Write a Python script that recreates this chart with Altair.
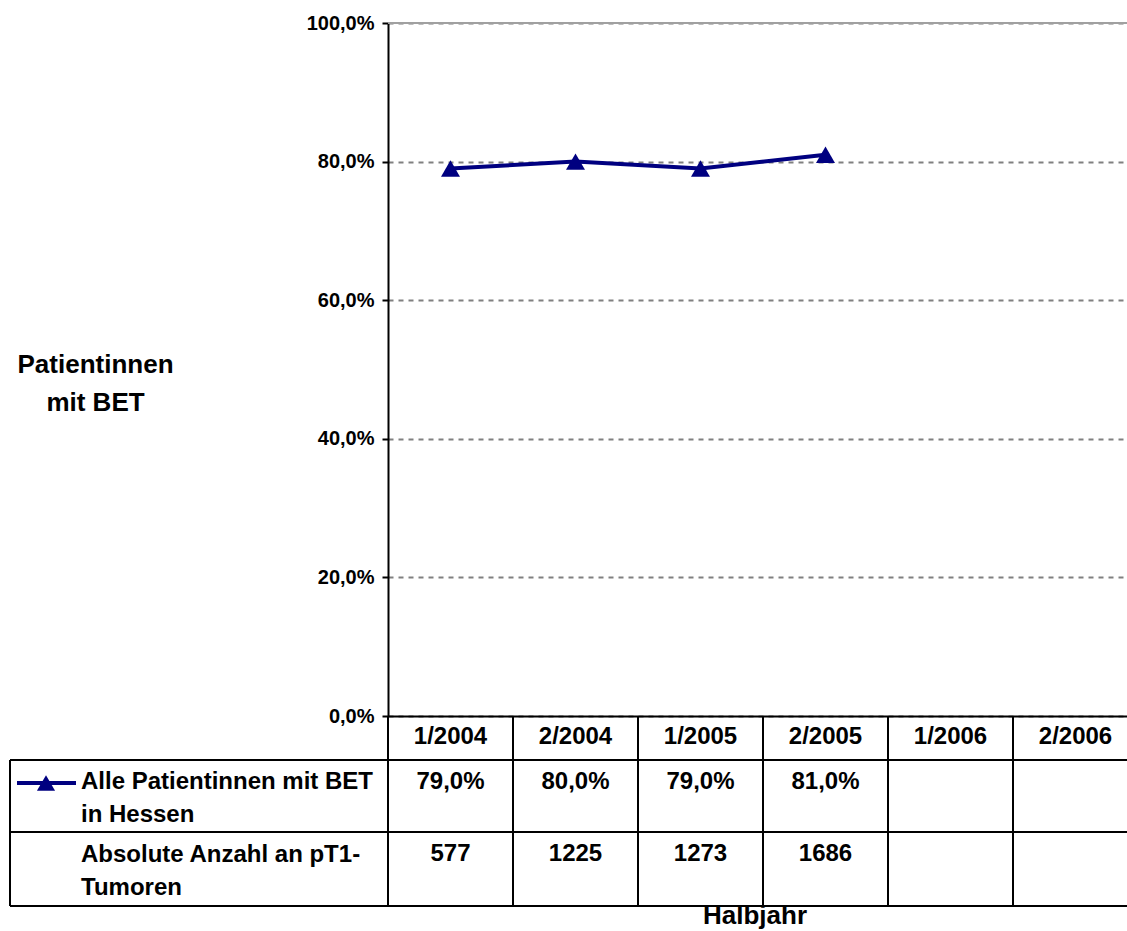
import altair as alt
import pandas as pd

# ---- data -------------------------------------------------------------
categories = ["1/2004", "2/2004", "1/2005", "2/2005", "1/2006", "2/2006"]
bet_share = [0.79, 0.80, 0.79, 0.81, None, None]
pt1_counts = [577, 1225, 1273, 1686, None, None]
y_ticks = [0.0, 0.2, 0.4, 0.6, 0.8, 1.0]
series_label = "Alle Patientinnen mit BET\nin Hessen"
count_label = "Absolute Anzahl an pT1-\nTumoren"
y_title = ["Patientinnen", "mit BET"]
x_title = "Halbjahr"

FONT = "Liberation Sans"
NAVY = "#000080"

df = pd.DataFrame({
    "cat": categories,
    "idx": list(range(len(categories))),
    "share": bet_share,
    "count": pt1_counts,
})
df["share_txt"] = [("" if v is None or pd.isna(v) else f"{v*100:.1f}%".replace(".", ",")) for v in df["share"]]
df["count_txt"] = [("" if v is None or pd.isna(v) else str(int(v))) for v in df["count"]]
line_df = df.dropna(subset=["share"])
bounds = pd.DataFrame({"idx": [i + 0.5 for i in range(len(categories) - 1)]})

W, H = 739, 693
xscale = alt.Scale(domain=[-0.5, 5.5 - 11 / 125], nice=False, zero=False)
yscale = alt.Scale(domain=[0, 1], nice=False, zero=True)

xaxis = alt.Axis(labels=False, ticks=False, grid=False, title=None,
                 domainColor="black", domainWidth=2)
yaxis = alt.Axis(values=y_ticks,
                 labelExpr="replace(format(datum.value, '.1%'), '.', ',')",
                 labelFont=FONT, labelFontSize=20, labelFontWeight="bold",
                 labelColor="black", labelPadding=8,
                 tickColor="black", tickWidth=2, tickSize=6,
                 domainColor="black", domainWidth=2,
                 grid=True, gridColor="#808080", gridDash=[5, 5], gridWidth=2,
                 title=y_title, titleAngle=0, titleX=-293, titleY=341,
                 titleAlign="center", titleBaseline="middle",
                 titleFont=FONT, titleFontSize=26, titleFontWeight="bold",
                 titleColor="black", titleLineHeight=38)

X = alt.X("idx:Q", scale=xscale, axis=xaxis)
Y = alt.Y("share:Q", scale=yscale, axis=yaxis)

base = alt.Chart(line_df)
top_rule = alt.Chart(pd.DataFrame({"share": [1.0]})).mark_rule(
    color="#a0a0a0", strokeWidth=2).encode(y=Y)
line = base.mark_line(color=NAVY, strokeWidth=4).encode(x=X, y=Y)
points = base.mark_point(shape="triangle-up", filled=True, size=360,
                         color=NAVY, opacity=1).encode(x=X, y=Y)

# ---- table --------------------------------------------------------------
hrules = alt.Chart(pd.DataFrame({"yy": [737, 809, 883]})).mark_rule(
    color="black", strokeWidth=2).encode(
    y=alt.Y("yy:Q", scale=None), x=alt.value(-378), x2=alt.value(W))
left_border = alt.Chart(pd.DataFrame({"a": [0]})).mark_rule(
    color="black", strokeWidth=2).encode(
    x=alt.value(-378), y=alt.value(737), y2=alt.value(883))
axis_ext = alt.Chart(pd.DataFrame({"a": [0]})).mark_rule(
    color="black", strokeWidth=2).encode(
    x=alt.value(0), y=alt.value(H), y2=alt.value(883))
vrules = alt.Chart(bounds).mark_rule(color="black", strokeWidth=2).encode(
    x=X, y=alt.value(H), y2=alt.value(883))

tbl = alt.Chart(df)
txt_kw = dict(font=FONT, fontSize=24, fontWeight="bold", color="black",
              baseline="middle", align="center")
head = tbl.mark_text(**txt_kw).encode(x=X, y=alt.value(714), text="cat:N")
row1 = tbl.mark_text(**txt_kw).encode(x=X, y=alt.value(759), text="share_txt:N")
row2 = tbl.mark_text(**txt_kw).encode(x=X, y=alt.value(831), text="count_txt:N")

lab_kw = dict(font=FONT, fontSize=24, fontWeight="bold", color="black",
              baseline="top", align="left", lineHeight=33, lineBreak="\n")
lab1 = alt.Chart(pd.DataFrame({"t": [series_label]})).mark_text(**lab_kw).encode(
    x=alt.value(-307), y=alt.value(747), text="t:N")
lab2 = alt.Chart(pd.DataFrame({"t": [count_label]})).mark_text(**lab_kw).encode(
    x=alt.value(-307), y=alt.value(820), text="t:N")

glyph_line = alt.Chart(pd.DataFrame({"a": [0]})).mark_rule(
    color=NAVY, strokeWidth=4).encode(x=alt.value(-371), x2=alt.value(-312), y=alt.value(760))
glyph_pt = alt.Chart(pd.DataFrame({"a": [0]})).mark_point(
    shape="triangle-up", filled=True, size=330, color=NAVY, opacity=1).encode(
    x=alt.value(-342), y=alt.value(760))

xtitle = alt.Chart(pd.DataFrame({"t": [x_title]})).mark_text(
    font=FONT, fontSize=26, fontWeight="bold", color="black",
    baseline="middle", align="center").encode(
    x=alt.value(367), y=alt.value(893), text="t:N")

chart = alt.layer(
    top_rule, line, points, hrules, left_border, axis_ext, vrules,
    head, row1, row2, lab1, lab2, glyph_line, glyph_pt, xtitle,
).properties(
    width=W, height=H,
    autosize=alt.AutoSizeParams(type="none"),
    padding={"left": 388, "top": 23, "right": 0, "bottom": 214},
    background="white",
).configure_view(stroke=None)

chart.save("out.html", embed_options={"renderer": "svg", "actions": False})
